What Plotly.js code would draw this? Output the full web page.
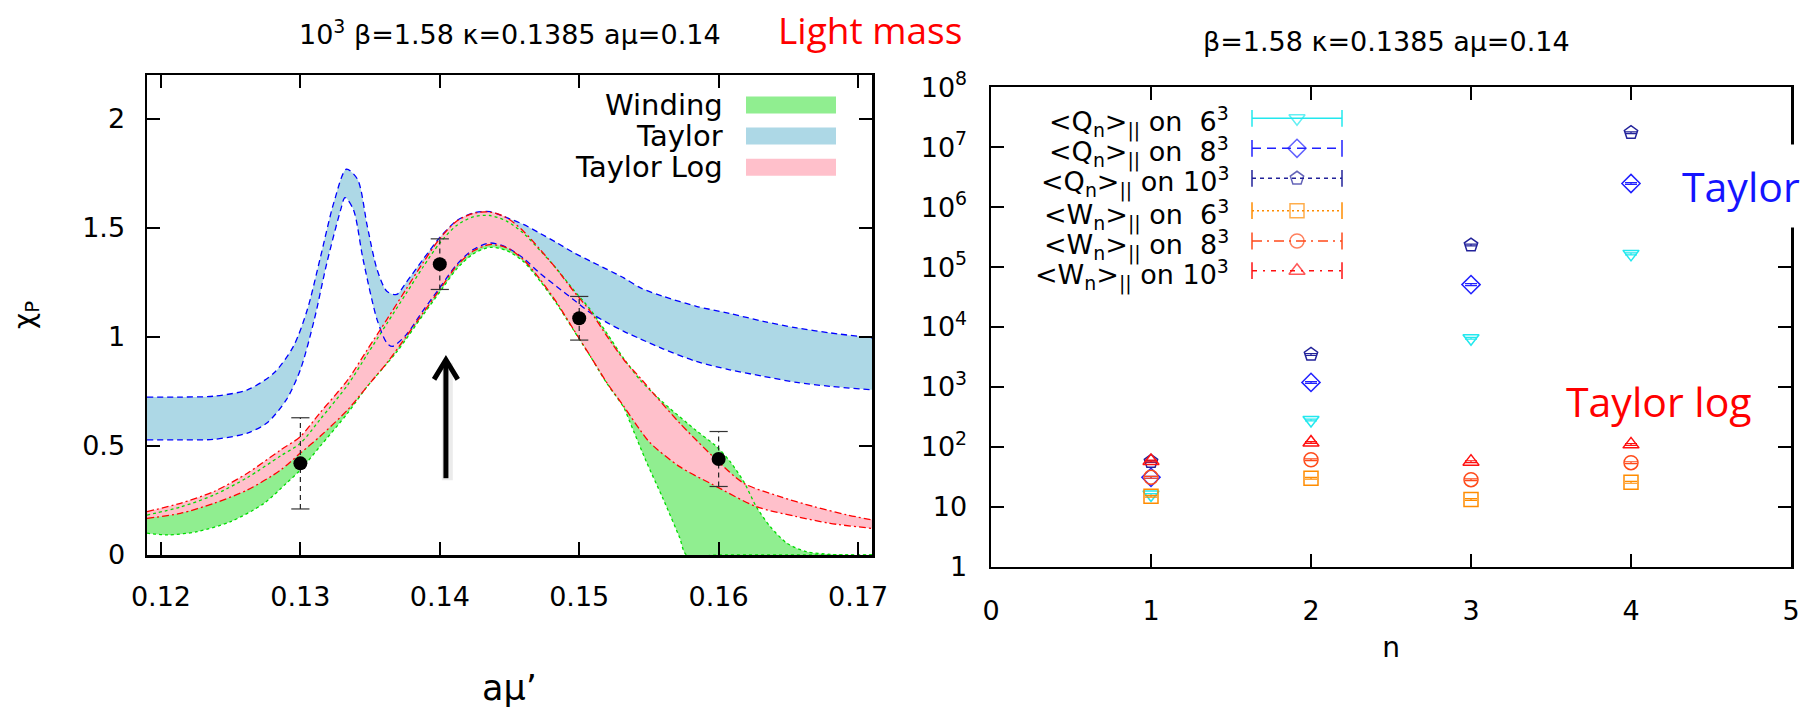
<!DOCTYPE html>
<html>
<head>
<meta charset="utf-8">
<script src="https://cdn.plot.ly/plotly-3.0.1.min.js"></script>
<style>
  html, body { margin: 0; padding: 0; background: #fff; }
  #chart { width: 1812px; height: 708px; }
</style>
</head>
<body>
<div id="chart"></div>
<script>
// ---------- left panel: chi_P bands versus a mu' ----------
const windLoX = [0.119, 0.1205, 0.1226, 0.1250, 0.1274, 0.1290, 0.1300, 0.1314, 0.1334, 0.1348, 0.1369, 0.1388, 0.1400, 0.1412, 0.1424, 0.1436, 0.1448, 0.1460, 0.1472, 0.1484, 0.1496, 0.1508, 0.1520, 0.1532, 0.1536, 0.1548, 0.1560, 0.1572, 0.1577, 0.1600, 0.1650, 0.1710];
const windLoY = [0.100, 0.092, 0.107, 0.153, 0.237, 0.329, 0.390, 0.497, 0.651, 0.773, 0.930, 1.100, 1.205, 1.310, 1.380, 1.410, 1.395, 1.345, 1.255, 1.150, 1.030, 0.910, 0.785, 0.675, 0.615, 0.430, 0.260, 0.080, 0.000, 0.000, 0.000, 0.000];
const windUpX = [0.119, 0.1214, 0.1238, 0.1262, 0.1286, 0.1300, 0.1314, 0.1334, 0.1348, 0.1362, 0.1376, 0.1388, 0.1400, 0.1412, 0.1424, 0.1436, 0.1448, 0.1460, 0.1472, 0.1484, 0.1496, 0.1508, 0.1520, 0.1532, 0.1544, 0.1560, 0.1584, 0.1598, 0.1608, 0.1618, 0.1627, 0.1637, 0.1649, 0.1663, 0.1680, 0.1692, 0.1710];
const windUpY = [0.183, 0.220, 0.275, 0.355, 0.455, 0.512, 0.620, 0.780, 0.920, 1.060, 1.200, 1.320, 1.430, 1.510, 1.550, 1.556, 1.530, 1.475, 1.395, 1.310, 1.215, 1.125, 1.015, 0.900, 0.800, 0.700, 0.570, 0.500, 0.430, 0.336, 0.222, 0.130, 0.054, 0.015, 0.003, 0.000, 0.000];

const taylorLoX = [0.119, 0.1215, 0.1238, 0.1262, 0.1276, 0.1290, 0.1300, 0.1310, 0.1319, 0.1329, 0.1332, 0.1338, 0.1345, 0.1355, 0.1362, 0.1366, 0.1376, 0.1388, 0.1400, 0.1412, 0.1424, 0.1436, 0.1448, 0.1460, 0.1472, 0.1484, 0.1496, 0.1508, 0.1520, 0.1532, 0.1544, 0.1560, 0.1584, 0.1608, 0.1632, 0.1656, 0.1680, 0.1710];
const taylorLoY = [0.528, 0.528, 0.530, 0.559, 0.605, 0.712, 0.849, 1.079, 1.339, 1.584, 1.638, 1.584, 1.354, 1.079, 0.972, 0.956, 1.010, 1.120, 1.225, 1.330, 1.400, 1.430, 1.410, 1.360, 1.290, 1.230, 1.170, 1.110, 1.065, 1.025, 0.990, 0.945, 0.887, 0.849, 0.819, 0.791, 0.773, 0.757];
const taylorUpX = [0.119, 0.1215, 0.1238, 0.1262, 0.1281, 0.1295, 0.1305, 0.1314, 0.1324, 0.1333, 0.1341, 0.1348, 0.1355, 0.1362, 0.1369, 0.1376, 0.1388, 0.1400, 0.1412, 0.1424, 0.1436, 0.1448, 0.1460, 0.1472, 0.1484, 0.1496, 0.1508, 0.1520, 0.1532, 0.1544, 0.1560, 0.1584, 0.1608, 0.1632, 0.1656, 0.1680, 0.1710];
const taylorUpY = [0.724, 0.724, 0.728, 0.757, 0.834, 0.956, 1.125, 1.354, 1.615, 1.768, 1.722, 1.507, 1.309, 1.209, 1.194, 1.250, 1.355, 1.455, 1.532, 1.568, 1.574, 1.546, 1.515, 1.474, 1.431, 1.386, 1.347, 1.309, 1.270, 1.224, 1.186, 1.140, 1.107, 1.071, 1.041, 1.018, 0.995];

const tlogLoX = [0.119, 0.1214, 0.1238, 0.1262, 0.1286, 0.1300, 0.1314, 0.1334, 0.1348, 0.1362, 0.1376, 0.1388, 0.1400, 0.1412, 0.1424, 0.1436, 0.1448, 0.1460, 0.1472, 0.1484, 0.1496, 0.1508, 0.1520, 0.1532, 0.1544, 0.1551, 0.1572, 0.1596, 0.1627, 0.1656, 0.1680, 0.1710];
const tlogLoY = [0.168, 0.191, 0.237, 0.298, 0.390, 0.467, 0.543, 0.666, 0.773, 0.880, 1.002, 1.110, 1.217, 1.324, 1.393, 1.423, 1.408, 1.354, 1.263, 1.156, 1.033, 0.911, 0.788, 0.681, 0.570, 0.513, 0.405, 0.322, 0.222, 0.176, 0.145, 0.122];
const tlogUpX = [0.119, 0.1214, 0.1238, 0.1262, 0.1286, 0.1300, 0.1314, 0.1334, 0.1348, 0.1362, 0.1376, 0.1388, 0.1400, 0.1412, 0.1424, 0.1436, 0.1448, 0.1460, 0.1472, 0.1484, 0.1496, 0.1508, 0.1520, 0.1532, 0.1544, 0.1556, 0.1572, 0.1596, 0.1618, 0.1644, 0.1668, 0.1692, 0.1710];
const tlogUpY = [0.199, 0.237, 0.291, 0.375, 0.482, 0.543, 0.651, 0.803, 0.941, 1.079, 1.220, 1.340, 1.450, 1.530, 1.566, 1.572, 1.546, 1.484, 1.400, 1.309, 1.209, 1.117, 1.002, 0.895, 0.810, 0.720, 0.605, 0.451, 0.329, 0.268, 0.222, 0.184, 0.161];

// measured chi_P points with their errors
const ptsX = [0.13, 0.14, 0.15, 0.16];
const ptsY = [0.420, 1.333, 1.085, 0.440];
const ptsErr = [0.209, 0.116, 0.100, 0.126];

// ---------- right panel: expectation values versus n ----------
const nVals = [1, 2, 3, 4];
const q6 = [16, 281, 6500, 1.66e5];
const q8 = [31, 1190, 5.1e4, 2.48e6];
const q10 = [57, 3490, 2.33e5, 1.75e7];
const w6 = [15, 30, 13.2, 25.6];
const w8 = [31, 61, 28.3, 54.5];
const w10 = [58, 118, 56.6, 110];
const q6Err = [0.6, 10, 230, 6000];
const q8Err = [1.1, 40, 1800, 9e4];
const q10Err = [2, 120, 8000, 6e5];
const w6Err = [0.5, 1, 0.45, 0.9];
const w8Err = [1.1, 2.1, 1, 1.9];
const w10Err = [2, 4, 2, 3.8];

const rightLabels = [
  '&lt;Q<sub>n</sub>&gt;<sub>||</sub> on&nbsp; 6<sup>3</sup>',
  '&lt;Q<sub>n</sub>&gt;<sub>||</sub> on&nbsp; 8<sup>3</sup>',
  '&lt;Q<sub>n</sub>&gt;<sub>||</sub> on 10<sup>3</sup>',
  '&lt;W<sub>n</sub>&gt;<sub>||</sub> on&nbsp; 6<sup>3</sup>',
  '&lt;W<sub>n</sub>&gt;<sub>||</sub> on&nbsp; 8<sup>3</sup>',
  '&lt;W<sub>n</sub>&gt;<sub>||</sub> on 10<sup>3</sup>'
];
const leftLabels = ['Winding', 'Taylor', 'Taylor Log'];
const logTickVals = [1, 10, 1e2, 1e3, 1e4, 1e5, 1e6, 1e7, 1e8];
const logTickText = ['1', '10', '10<sup>2</sup>', '10<sup>3</sup>', '10<sup>4</sup>', '10<sup>5</sup>', '10<sup>6</sup>', '10<sup>7</sup>', '10<sup>8</sup>'];

// ---------- page geometry (pixels of the 1812 x 708 page) ----------
const W = 1812, H = 708;
const fx = p => p / W;
const fy = p => 1 - p / H;
const L = {x0: 147, x1: 872, y0: 555, y1: 75};
const R = {x0: 991, x1: 1791, y0: 566.7, y1: 87.3};
const ldx = p => (p - L.x0) / (L.x1 - L.x0);
const ldy = p => (L.y0 - p) / (L.y0 - L.y1);
const rdx = p => (p - R.x0) / (R.x1 - R.x0);
const rdy = p => (R.y0 - p) / (R.y0 - R.y1);

const SANS = 'DejaVu Sans, Liberation Sans, Arial, sans-serif';
const CAL = 'Open Sans, Noto Sans, Lato, sans-serif';

const COL = {
  wind: '#90ee90', windLine: '#00dd00',
  taylor: '#add8e6', taylorLine: '#0000ff',
  tlog: '#ffc0cb', tlogLine: '#ff0000'
};

const traces = [];
const band = (xLo, yLo, xUp, yUp, fill) => {
  traces.push({x: xLo, y: yLo, xaxis: 'x', yaxis: 'y', mode: 'lines', line: {width: 0, shape: 'spline', smoothing: 0.8}, hoverinfo: 'skip'});
  traces.push({x: xUp, y: yUp, xaxis: 'x', yaxis: 'y', mode: 'lines', fill: 'tonexty', fillcolor: fill, line: {width: 0, shape: 'spline', smoothing: 0.8}, hoverinfo: 'skip'});
};
band(windLoX, windLoY, windUpX, windUpY, COL.wind);
band(taylorLoX, taylorLoY, taylorUpX, taylorUpY, COL.taylor);
band(tlogLoX, tlogLoY, tlogUpX, tlogUpY, COL.tlog);

const edge = (xs, ys, color, dash) => traces.push({
  x: xs, y: ys, xaxis: 'x', yaxis: 'y', mode: 'lines', hoverinfo: 'skip',
  line: {color: color, width: 1.3, dash: dash, shape: 'spline', smoothing: 0.8}
});
edge(windLoX, windLoY, COL.windLine, '3px,3px');
edge(windUpX, windUpY, COL.windLine, '3px,3px');
edge(taylorLoX, taylorLoY, COL.taylorLine, '6px,4px');
edge(taylorUpX, taylorUpY, COL.taylorLine, '6px,4px');
edge(tlogLoX, tlogLoY, COL.tlogLine, '7px,3px,2px,3px');
edge(tlogUpX, tlogUpY, COL.tlogLine, '7px,3px,2px,3px');

// dashed error bars of the measured points
const segX = [], segY = [], capX = [], capY = [];
ptsX.forEach((x, i) => {
  segX.push(x, x, null);
  segY.push(ptsY[i] - ptsErr[i], ptsY[i] + ptsErr[i], null);
  capX.push(x, x);
  capY.push(ptsY[i] - ptsErr[i], ptsY[i] + ptsErr[i]);
});
traces.push({x: segX, y: segY, xaxis: 'x', yaxis: 'y', mode: 'lines', line: {color: '#222', width: 1.2, dash: '5px,4px'}, hoverinfo: 'skip'});
traces.push({x: capX, y: capY, xaxis: 'x', yaxis: 'y', mode: 'markers', marker: {symbol: 'line-ew-open', size: 13, color: '#333', line: {color: '#333', width: 1.2}}, hoverinfo: 'skip'});
traces.push({x: ptsX, y: ptsY, xaxis: 'x', yaxis: 'y', mode: 'markers', marker: {symbol: 'circle', size: 14, color: '#000'}, hoverinfo: 'skip'});

// right panel series
const series = [
  {y: q6, e: q6Err, color: '#22e8ee', symbol: 'triangle-down-open', dash: 'solid'},
  {y: q8, e: q8Err, color: '#2020ff', symbol: 'diamond-open', dash: '9px,6px'},
  {y: q10, e: q10Err, color: '#22229a', symbol: 'pentagon-open', dash: '4px,4px'},
  {y: w6, e: w6Err, color: '#ff8c00', symbol: 'square-open', dash: '2px,3px'},
  {y: w8, e: w8Err, color: '#ff4a1a', symbol: 'circle-open', dash: '10px,5px,2px,5px'},
  {y: w10, e: w10Err, color: '#ff1010', symbol: 'triangle-up-open', dash: '5px,6px,2px,6px'}
];
series.forEach(s => {
  traces.push({
    x: nVals, y: s.y, xaxis: 'x2', yaxis: 'y2', mode: 'markers', hoverinfo: 'skip',
    marker: {symbol: s.symbol, size: 14, color: s.color, line: {color: s.color, width: 1.5}},
    error_y: {type: 'data', array: s.e, visible: true, color: s.color, thickness: 1.2, width: 6}
  });
});

// key glyphs for the right panel, on an overlay axis pair spanning the panel
const keyX0 = rdx(1252), keyX1 = rdx(1342), keyXm = rdx(1297);
const keyRows = [118.3, 148.3, 178.3, 210.7, 241, 270.7];
series.forEach((s, i) => {
  const ry = rdy(keyRows[i]);
  traces.push({x: [keyX0, keyXm, keyX1], y: [ry, ry, ry], xaxis: 'x3', yaxis: 'y3', mode: 'lines+markers', hoverinfo: 'skip',
    line: {color: s.color, width: 1.5, dash: s.dash},
    marker: {symbol: s.symbol, size: [0, 14, 0], color: s.color, line: {color: s.color, width: 1.5}}});
  traces.push({x: [keyX0, keyX1], y: [ry, ry], xaxis: 'x3', yaxis: 'y3', mode: 'markers', hoverinfo: 'skip',
    marker: {symbol: 'line-ns-open', size: 12, color: s.color, line: {color: s.color, width: 1.5}}});
});

const frameAxis = {
  showline: true, linecolor: '#000', linewidth: 2.5, mirror: 'ticks',
  ticks: 'inside', ticklen: 13, tickwidth: 2, tickcolor: '#000',
  showgrid: false, zeroline: false, fixedrange: true,
  tickfont: {family: SANS, size: 27, color: '#000'}
};

const annotations = [];
// panel headings
annotations.push({xref: 'paper', yref: 'paper', x: fx(509.5), y: fy(33), xanchor: 'center', yanchor: 'middle', showarrow: false,
  text: '10<sup>3</sup> β=1.58 κ=0.1385 aμ=0.14', font: {family: SANS, size: 27, color: '#000'}});
annotations.push({xref: 'paper', yref: 'paper', x: fx(1386), y: fy(42), xanchor: 'center', yanchor: 'middle', showarrow: false,
  text: 'β=1.58 κ=0.1385 aμ=0.14', font: {family: SANS, size: 27, color: '#000'}});
annotations.push({xref: 'paper', yref: 'paper', x: fx(870), y: fy(29), xanchor: 'center', yanchor: 'middle', showarrow: false,
  text: 'Light mass', font: {family: CAL, size: 37, color: '#ff0000'}});
annotations.push({xref: 'paper', yref: 'paper', x: fx(1741), y: fy(186), xanchor: 'center', yanchor: 'middle', showarrow: false,
  text: 'Taylor', bgcolor: '#ffffff', borderpad: 13, font: {family: CAL, size: 41, color: '#1414ff'}});
annotations.push({xref: 'paper', yref: 'paper', x: fx(1659), y: fy(401), xanchor: 'center', yanchor: 'middle', showarrow: false,
  text: 'Taylor log', font: {family: CAL, size: 41, color: '#ff0000'}});

// left key: labels and colour swatches
const leftRows = [105, 136, 167.3];
const leftFill = [COL.wind, COL.taylor, COL.tlog];
const shapes = [];
leftLabels.forEach((t, i) => {
  annotations.push({xref: 'x domain', yref: 'y domain', x: ldx(725), y: ldy(leftRows[i]), xanchor: 'right', yanchor: 'middle', showarrow: false,
    text: t, font: {family: SANS, size: 29, color: '#000'}});
  shapes.push({type: 'rect', xref: 'x domain', yref: 'y domain', x0: ldx(746), x1: ldx(836),
    y0: ldy(leftRows[i] + 8.5), y1: ldy(leftRows[i] - 8.5), fillcolor: leftFill[i], line: {width: 0}, layer: 'above'});
});
// right key labels
rightLabels.forEach((t, i) => {
  annotations.push({xref: 'x2 domain', yref: 'y2 domain', x: rdx(1231), y: rdy(keyRows[i] + 4), xanchor: 'right', yanchor: 'middle', showarrow: false,
    text: t, font: {family: SANS, size: 27, color: '#000'}});
});

// arrow marking a mu' = 0.14, with a soft shadow
const arrowX = 0.14044;
shapes.push({type: 'line', xref: 'x', yref: 'y', x0: arrowX + 0.0001, x1: arrowX + 0.0001, y0: 0.343, y1: 0.88, line: {color: 'rgba(0,0,0,0.08)', width: 11}, layer: 'above'});
shapes.push({type: 'line', xref: 'x', yref: 'y', x0: arrowX, x1: arrowX, y0: 0.352, y1: 0.885, line: {color: '#000', width: 5}, layer: 'above'});
shapes.push({type: 'path', xref: 'x', yref: 'y', path: `M ${arrowX - 0.00085},0.805 L ${arrowX},0.895 L ${arrowX + 0.00085},0.805`, line: {color: '#000', width: 5}, layer: 'above'});

const layout = {
  width: W, height: H,
  margin: {l: 0, r: 0, t: 0, b: 0},
  paper_bgcolor: '#fff', plot_bgcolor: '#fff',
  showlegend: false,
  font: {family: SANS, color: '#000'},
  xaxis: Object.assign({}, frameAxis, {
    domain: [fx(L.x0), fx(L.x1)], range: [0.119, 0.171], tick0: 0.12, dtick: 0.01, tickformat: '.2f',
    anchor: 'y', ticklabelstandoff: 16,
    title: {text: 'aμ’', font: {family: SANS, size: 35, color: '#000'}, standoff: 66}
  }),
  yaxis: Object.assign({}, frameAxis, {
    domain: [fy(L.y0), fy(L.y1)], range: [0, 2.2], dtick: 0.5, anchor: 'x', ticklabelstandoff: 14,
    title: {text: 'χ<sub>P</sub>', font: {family: SANS, size: 28, color: '#000'}, standoff: 40}
  }),
  xaxis2: Object.assign({}, frameAxis, {
    domain: [fx(R.x0), fx(R.x1)], range: [0, 5], dtick: 1, anchor: 'y2', ticklabelstandoff: 18,
    title: {text: 'n', font: {family: SANS, size: 28, color: '#000'}, standoff: 13}
  }),
  yaxis2: Object.assign({}, frameAxis, {
    domain: [fy(R.y0), fy(R.y1)], type: 'log', range: [0, 8], anchor: 'x2', ticklabelstandoff: 16,
    tickmode: 'array', tickvals: logTickVals, ticktext: logTickText
  }),
  xaxis3: {overlaying: 'x2', range: [0, 1], visible: false, fixedrange: true},
  yaxis3: {overlaying: 'y2', range: [0, 1], visible: false, fixedrange: true},
  annotations: annotations,
  shapes: shapes
};

Plotly.newPlot('chart', traces, layout, {staticPlot: true, displayModeBar: false});
</script>
</body>
</html>
